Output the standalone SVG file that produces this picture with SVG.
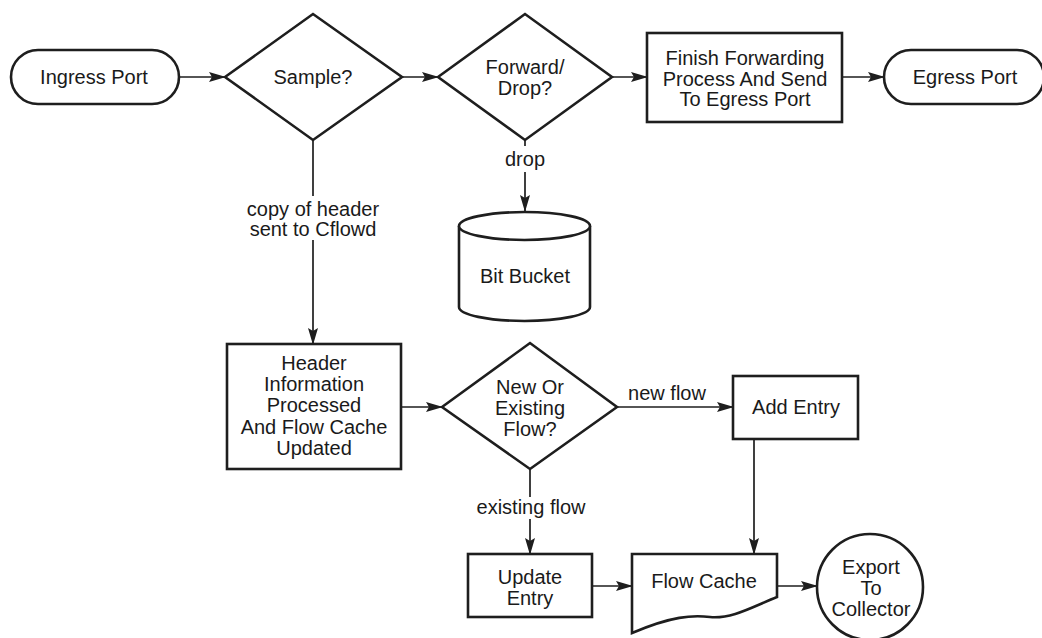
<svg xmlns="http://www.w3.org/2000/svg" width="1042" height="638" viewBox="0 0 1042 638">
<style>
.n{fill:#fff;stroke:#1e1e1e;stroke-width:2.6;stroke-linejoin:miter}
.c{fill:none;stroke:#1e1e1e;stroke-width:1.7}
text{font-family:"Liberation Sans",Arial,Helvetica,sans-serif;font-size:20px;fill:#1a1a1a;text-anchor:middle}
</style>
<defs>
<marker id="ah" markerWidth="17" markerHeight="11" refX="16" refY="5.5" orient="auto" markerUnits="userSpaceOnUse">
<path d="M0,0.5 L17,5.5 L0,10.5 L3,5.5 Z" fill="#1e1e1e"/>
</marker>
</defs>
<rect width="1042" height="638" fill="#fff"/>
<g id="connectors">
<path class="c" d="M179,77 H225" marker-end="url(#ah)"/>
<path class="c" d="M402,77 H438" marker-end="url(#ah)"/>
<path class="c" d="M612,77 H647" marker-end="url(#ah)"/>
<path class="c" d="M842,77 H884" marker-end="url(#ah)"/>
<path class="c" d="M313,140 V196"/>
<path class="c" d="M313,240 V344" marker-end="url(#ah)"/>
<text x="313" y="216">copy of header</text>
<text x="313" y="236">sent to Cflowd</text>
<path class="c" d="M525,140 V146"/>
<path class="c" d="M525,172 V211" marker-end="url(#ah)"/>
<text x="525" y="166">drop</text>
<path class="c" d="M401,407 H442" marker-end="url(#ah)"/>
<path class="c" d="M617,407 H733" marker-end="url(#ah)"/>
<text x="667" y="400">new flow</text>
<path class="c" d="M530,469 V497"/>
<path class="c" d="M530,519 V554" marker-end="url(#ah)"/>
<text x="531" y="514">existing flow</text>
<path class="c" d="M754,439 V554" marker-end="url(#ah)"/>
<path class="c" d="M592,586 H632" marker-end="url(#ah)"/>
<path class="c" d="M777,586 H817" marker-end="url(#ah)"/>
</g>
<g id="ingress">
<rect class="n" x="11" y="50" width="168" height="54" rx="27" ry="27"/>
<text x="94" y="84">Ingress Port</text>
</g>
<g id="sample">
<polygon class="n" points="225,77 313,14 402,77 313,140"/>
<text x="313" y="84">Sample?</text>
</g>
<g id="forward">
<polygon class="n" points="438,77 525,14 612,77 525,140"/>
<text x="525" y="74">Forward/</text>
<text x="525" y="95">Drop?</text>
</g>
<g id="finish">
<rect class="n" x="647" y="33" width="195" height="89"/>
<text x="745" y="65">Finish Forwarding</text>
<text x="745" y="86">Process And Send</text>
<text x="745" y="106">To Egress Port</text>
</g>
<g id="egress">
<rect class="n" x="884" y="50" width="160" height="54" rx="27" ry="27"/>
<text x="965" y="84">Egress Port</text>
</g>
<g id="bitbucket">
<path class="n" d="M459,226 A65.5,14 0 0 1 590,226 V307 A65.5,14 0 0 1 459,307 Z"/>
<path class="n" fill="none" d="M459,226 A65.5,14 0 0 0 590,226"/>
<text x="525" y="283">Bit Bucket</text>
</g>
<g id="header">
<rect class="n" x="227" y="344" width="174" height="125"/>
<text x="314" y="370">Header</text>
<text x="314" y="391">Information</text>
<text x="314" y="412">Processed</text>
<text x="314" y="434">And Flow Cache</text>
<text x="314" y="455">Updated</text>
</g>
<g id="neworexisting">
<polygon class="n" points="442,407 530,343 617,407 530,469"/>
<text x="530" y="394">New Or</text>
<text x="530" y="415">Existing</text>
<text x="530" y="436">Flow?</text>
</g>
<g id="addentry">
<rect class="n" x="733" y="376" width="125" height="63"/>
<text x="796" y="414">Add Entry</text>
</g>
<g id="updateentry">
<rect class="n" x="468" y="554" width="124" height="63"/>
<text x="530" y="584">Update</text>
<text x="530" y="605">Entry</text>
</g>
<g id="flowcache">
<path class="n" d="M632,554 H777 V597 C752,607 732,619 710,617 C692,615 672,616 632,633 Z"/>
<text x="704" y="588">Flow Cache</text>
</g>
<g id="export">
<circle class="n" cx="870" cy="587" r="53"/>
<text x="871" y="574">Export</text>
<text x="871" y="595">To</text>
<text x="871" y="616">Collector</text>
</g>
</svg>
